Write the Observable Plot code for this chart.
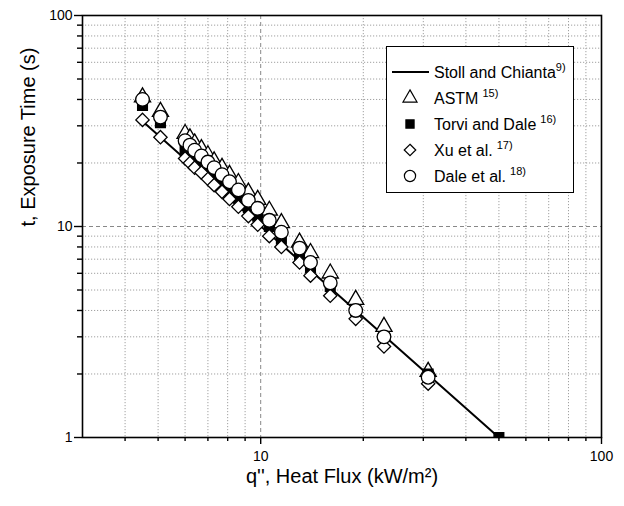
<!DOCTYPE html>
<html><head><meta charset="utf-8">
<script src="https://cdn.jsdelivr.net/npm/d3@7"></script>
<script src="https://cdn.jsdelivr.net/npm/@observablehq/plot@0.6"></script>
<style>
body{margin:0;background:#fff;font-family:"Liberation Sans",Arial,sans-serif;}
#wrap{position:relative;width:624px;height:506px;}
#legend{position:absolute;left:0;top:0;}
</style></head><body><div id="wrap"></div>
<script>
// ---- data ----
const heatFlux = [4.5, 5.08, 6.0, 6.2, 6.4, 6.7, 7.0, 7.3, 7.7, 8.1, 8.6, 9.2, 9.8, 10.6, 11.5, 13.0, 14.0, 16.0, 19.0, 23.0, 31.0, 50.0];
const astmTime  = [41, 35, 27.5, 26.2, 24.8, 23.3, 21.8, 20.4, 19, 17.6, 16.1, 14.5, 13.4, 11.9, 10.4, 8.4, 7.5, 6.0, 4.5, 3.35, 2.05, null];
const torviTime = [37.5, 31, 23, 22, 21, 19.6, 18.3, 17.2, 16, 14.8, 13.6, 12.3, 11.2, 10, 8.7, 7.2, 6.4, 5.2, 4.0, 3.0, 2.0, 1.0];
const xuTime    = [32, 26.5, 21, 20, 19, 18, 16.8, 15.7, 14.6, 13.5, 12.4, 11.2, 10.2, 9.0, 8.0, 6.75, 5.85, 4.7, 3.65, 2.7, 1.8, null];
const daleTime  = [40, 33, 25.5, 24.3, 23, 21.6, 20.2, 19, 17.6, 16.3, 14.9, 13.3, 12.2, 10.7, 9.4, 7.9, 6.75, 5.4, 4.0, 3.0, 1.93, null];
const stollFlux = [4.5, 50];
const stollTime = [31.5, 1];
const xMajor = [10, 100];
const xMinor = [4, 5, 6, 7, 8, 9, 20, 30, 40, 50, 60, 70, 80, 90];
const yMajor = [1, 10, 100];
const yMinor = [2, 3, 4, 5, 6, 7, 8, 9, 20, 30, 40, 50, 60, 70, 80, 90];
const legendLabels = ["Stoll and Chianta", "ASTM", "Torvi and Dale", "Xu et al.", "Dale et al."];
const legendRefs = ["9)", "15)", "16)", "17)", "18)"];
const xTitle = "q'', Heat Flux (kW/m²)";
const yTitle = "t, Exposure Time (s)";

const rows = (vals) => heatFlux.map((q, i) => ({q, t: vals[i]})).filter(d => d.t != null);
const stollRows = stollFlux.map((q, i) => ({q, t: stollTime[i]}));
const FONT = "Liberation Sans, Arial, sans-serif";
const mk = {stroke: "black", strokeWidth: 1.3};

const plot = Plot.plot({
  width: 624, height: 506,
  marginLeft: 82, marginRight: 23, marginTop: 15, marginBottom: 69,
  x: {type: "log", domain: [3, 100]},
  y: {type: "log", domain: [1, 100]},
  style: {fontFamily: FONT, background: "#fff", color: "black"},
  marks: [
    Plot.ruleX(xMinor, {stroke: "#a0a0a0", strokeDasharray: "1.2,1.8", strokeWidth: 1}),
    Plot.ruleY(yMinor, {stroke: "#a0a0a0", strokeDasharray: "1.2,1.8", strokeWidth: 1}),
    Plot.ruleX([10], {stroke: "#888", strokeDasharray: "4,3", strokeWidth: 1}),
    Plot.ruleY([10], {stroke: "#888", strokeDasharray: "4,3", strokeWidth: 1}),
    Plot.line(stollRows, {x: "q", y: "t", stroke: "black", strokeWidth: 2}),
    Plot.dot(rows(astmTime), {x: "q", y: "t", symbol: "triangle", r: 6, fill: "white", ...mk}),
    Plot.dot(rows(torviTime), {x: "q", y: "t", symbol: "square", r: 5.4, fill: "black", stroke: "black", clip: true}),
    Plot.dot(rows(xuTime), {x: "q", y: "t", symbol: "diamond2", r: 6, fill: "white", ...mk}),
    Plot.dot(rows(daleTime), {x: "q", y: "t", symbol: "circle", r: 6.8, fill: "white", ...mk}),
    Plot.frame({stroke: "black", strokeWidth: 1.6}),
    Plot.axisX({ticks: xMajor, tickSize: 7, tickPadding: 7, fontSize: 14, label: null, tickFormat: d => String(d), strokeWidth: 1.4}),
    Plot.axisX({ticks: xMinor, tickSize: 4, tickFormat: () => "", label: null, strokeWidth: 1.4}),
    Plot.axisY({ticks: yMajor, tickSize: 8, tickPadding: 2, fontSize: 14, label: null, tickFormat: d => String(d), strokeWidth: 1.4}),
    Plot.axisY({ticks: yMinor, tickSize: 5, tickFormat: () => "", label: null, strokeWidth: 1.4}),
    Plot.text([xTitle], {frameAnchor: "bottom", dy: 45, fontSize: 20, fontFamily: FONT}),
    Plot.text([yTitle], {frameAnchor: "left", rotate: -90, dx: -54, fontSize: 20, fontFamily: FONT})
  ]
});
document.getElementById("wrap").appendChild(plot);

// ---- legend (overlay) ----
const lg = d3.select("#wrap").append("svg").attr("id", "legend")
  .attr("width", 624).attr("height", 506).style("pointer-events", "none");
const box = {x: 386, y: 46, w: 187, h: 146};
lg.append("rect").attr("x", box.x + 0.5).attr("y", box.y + 0.5).attr("width", box.w).attr("height", box.h)
  .attr("fill", "white").attr("stroke", "black").attr("stroke-width", 1);
const symbols = [null, d3.symbolTriangle, d3.symbolSquare, d3.symbolDiamond2, d3.symbolCircle];
const sizes = [0, Math.PI * 5.2 * 5.2, Math.PI * 4.6 * 4.6, Math.PI * 5.2 * 5.2, Math.PI * 5.6 * 5.6];
const fills = [null, "white", "black", "white", "white"];
legendLabels.forEach((lab, i) => {
  const cy = 72 + i * 26;
  if (i === 0) {
    lg.append("line").attr("x1", 392).attr("x2", 429).attr("y1", cy).attr("y2", cy)
      .attr("stroke", "black").attr("stroke-width", 2);
  } else {
    lg.append("path").attr("d", d3.symbol(symbols[i], sizes[i])())
      .attr("transform", `translate(410,${cy})`).attr("fill", fills[i])
      .attr("stroke", "black").attr("stroke-width", 1.2);
  }
  const t = lg.append("text").attr("x", 434).attr("y", cy + 6)
    .attr("font-family", FONT).attr("font-size", 16).attr("fill", "black");
  t.append("tspan").text(lab);
  t.append("tspan").attr("dx", i === 0 ? 0 : 4).attr("dy", -7).attr("font-size", 11).text(legendRefs[i]);
});
</script>
</body></html>
